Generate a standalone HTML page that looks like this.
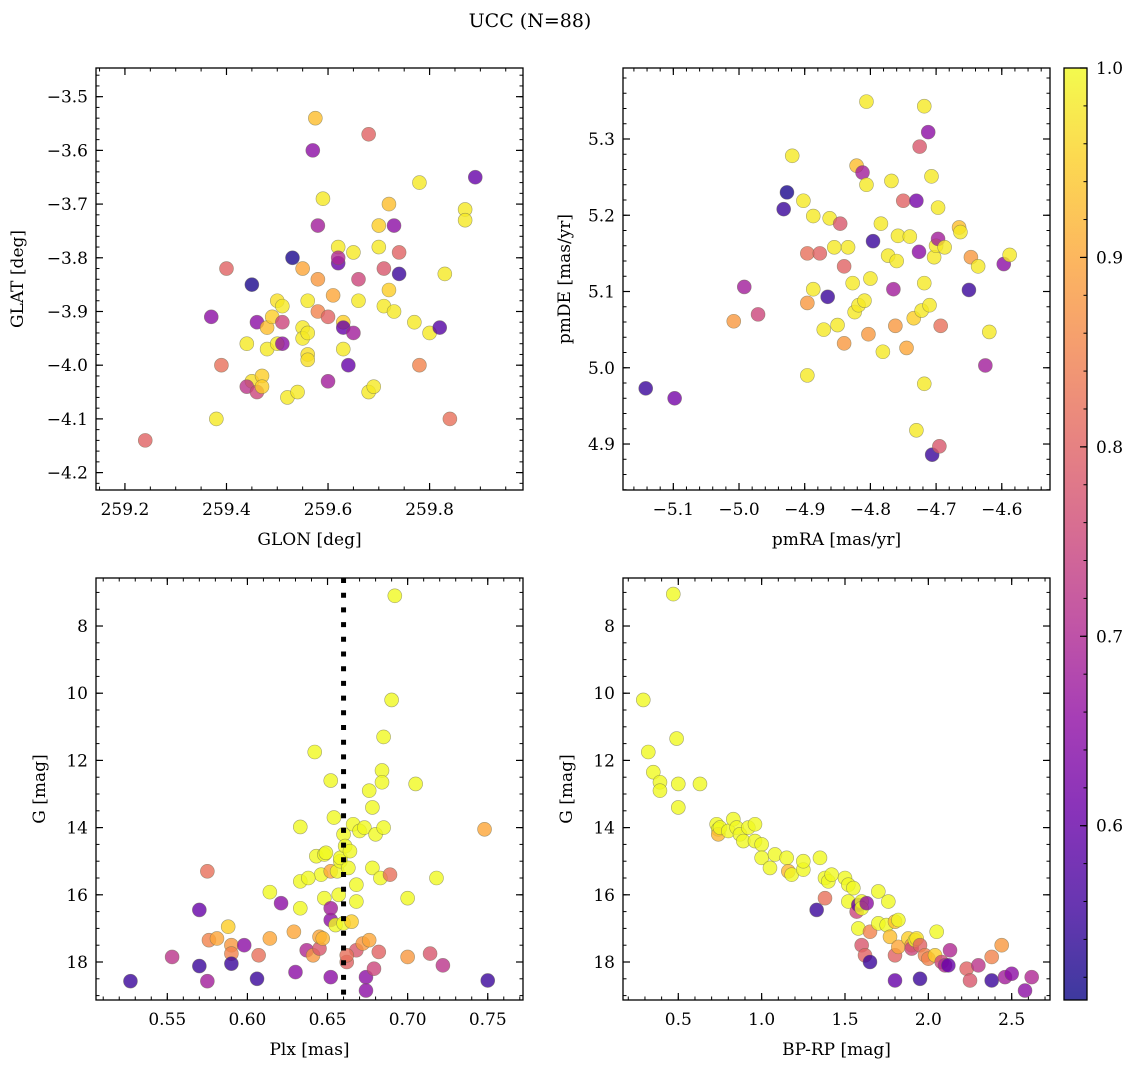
<!DOCTYPE html>
<html><head><meta charset="utf-8"><style>
body{margin:0;background:#fff}
svg{display:block}
text{font-family:"DejaVu Serif","Liberation Serif",serif;fill:#000}
</style></head><body>
<svg id="fig" width="1136" height="1067" viewBox="0 0 1136 1067" xmlns="http://www.w3.org/2000/svg">
<text x="530" y="27" font-size="19" text-anchor="middle">UCC (N=88)</text>
<defs><linearGradient id="cbg" x1="0" y1="1" x2="0" y2="0">
<stop offset="0" stop-color="#0d0887"/><stop offset="0.1" stop-color="#41049d"/><stop offset="0.2" stop-color="#6a00a8"/><stop offset="0.3" stop-color="#8f0da4"/><stop offset="0.4" stop-color="#b12a90"/><stop offset="0.5" stop-color="#cc4778"/><stop offset="0.6" stop-color="#e16462"/><stop offset="0.7" stop-color="#f2844b"/><stop offset="0.8" stop-color="#fca636"/><stop offset="0.9" stop-color="#fcce25"/><stop offset="1" stop-color="#f0f921"/>
</linearGradient></defs>
</svg>
<script>
// ---- data ----
const p1Lon=[259.24,259.37,259.38,259.39,259.40,259.44,259.45,259.45,259.44,259.46,259.46,259.47,259.47,259.48,259.48,259.49,259.50,259.50,259.51,259.51,259.51,259.52,259.53,259.54,259.55,259.55,259.55,259.56,259.56,259.56,259.56,259.57,259.575,259.58,259.58,259.58,259.59,259.60,259.60,259.61,259.62,259.62,259.62,259.63,259.63,259.63,259.64,259.65,259.65,259.66,259.66,259.68,259.68,259.69,259.70,259.70,259.71,259.71,259.72,259.72,259.73,259.73,259.74,259.74,259.77,259.78,259.78,259.80,259.82,259.83,259.84,259.87,259.87,259.89];
const p1Lat=[-4.14,-3.91,-4.10,-4.00,-3.82,-3.96,-3.85,-4.03,-4.04,-3.92,-4.05,-4.02,-4.04,-3.97,-3.93,-3.91,-3.88,-3.96,-3.89,-3.92,-3.96,-4.06,-3.80,-4.05,-3.93,-3.95,-3.82,-3.98,-3.99,-3.94,-3.88,-3.60,-3.54,-3.90,-3.84,-3.74,-3.69,-3.91,-4.03,-3.87,-3.78,-3.81,-3.80,-3.92,-3.93,-3.97,-4.00,-3.94,-3.79,-3.84,-3.88,-3.57,-4.05,-4.04,-3.78,-3.74,-3.82,-3.89,-3.70,-3.86,-3.90,-3.74,-3.79,-3.83,-3.92,-3.66,-4.00,-3.94,-3.93,-3.83,-4.10,-3.71,-3.73,-3.65];
const p1C=[0.8,0.65,0.98,0.82,0.8,0.98,0.52,0.97,0.72,0.65,0.75,0.95,0.95,0.98,0.93,0.95,0.97,0.98,0.98,0.75,0.65,0.98,0.52,0.98,0.98,0.98,0.9,0.97,0.97,0.98,0.98,0.65,0.93,0.85,0.88,0.68,0.98,0.8,0.68,0.9,0.98,0.6,0.7,0.95,0.6,0.98,0.6,0.68,0.98,0.75,0.98,0.8,0.98,0.98,0.98,0.95,0.78,0.98,0.93,0.95,0.98,0.65,0.8,0.55,0.98,0.98,0.85,0.98,0.58,0.98,0.82,0.98,0.98,0.6];

const p2RA=[-5.142,-5.098,-5.008,-4.992,-4.971,-4.927,-4.932,-4.919,-4.902,-4.896,-4.896,-4.896,-4.887,-4.887,-4.877,-4.871,-4.862,-4.865,-4.855,-4.850,-4.846,-4.840,-4.840,-4.834,-4.827,-4.824,-4.821,-4.818,-4.812,-4.809,-4.806,-4.803,-4.800,-4.806,-4.796,-4.784,-4.781,-4.773,-4.768,-4.765,-4.762,-4.758,-4.750,-4.740,-4.734,-4.730,-4.730,-4.726,-4.725,-4.722,-4.718,-4.718,-4.718,-4.712,-4.710,-4.707,-4.706,-4.703,-4.700,-4.697,-4.697,-4.693,-4.695,-4.687,-4.665,-4.663,-4.647,-4.650,-4.636,-4.625,-4.619,-4.597,-4.588,-4.760,-4.745];
const p2DE=[4.973,4.960,5.061,5.106,5.070,5.230,5.208,5.278,5.219,5.150,5.085,4.990,5.199,5.103,5.150,5.050,5.196,5.093,5.158,5.056,5.189,5.032,5.133,5.158,5.111,5.073,5.265,5.082,5.256,5.088,5.240,5.044,5.117,5.349,5.166,5.189,5.021,5.147,5.245,5.103,5.055,5.173,5.219,5.172,5.065,4.918,5.219,5.152,5.290,5.075,5.343,5.111,4.979,5.309,5.082,5.251,4.886,5.145,5.160,5.210,5.169,5.055,4.897,5.158,5.184,5.178,5.145,5.102,5.133,5.003,5.047,5.136,5.148,5.140,5.026];
const p2C=[0.55,0.62,0.88,0.68,0.75,0.52,0.55,0.98,0.98,0.82,0.88,0.98,0.98,0.98,0.8,0.98,0.98,0.55,0.98,0.98,0.78,0.88,0.8,0.98,0.98,0.98,0.93,0.98,0.68,0.98,0.98,0.88,0.98,0.98,0.55,0.98,0.98,0.98,0.98,0.68,0.88,0.98,0.8,0.98,0.95,0.98,0.62,0.65,0.78,0.98,0.98,0.98,0.98,0.65,0.98,0.98,0.55,0.98,0.98,0.98,0.68,0.82,0.78,0.98,0.93,0.98,0.88,0.55,0.98,0.68,0.98,0.65,0.98,0.98,0.9];

const p3Plx=[0.527,0.553,0.570,0.570,0.575,0.575,0.576,0.581,0.588,0.590,0.590,0.590,0.598,0.606,0.607,0.614,0.614,0.621,0.629,0.630,0.633,0.633,0.633,0.637,0.642,0.641,0.643,0.645,0.645,0.646,0.648,0.648,0.649,0.652,0.652,0.652,0.652,0.652,0.654,0.655,0.656,0.657,0.658,0.658,0.660,0.660,0.661,0.662,0.663,0.664,0.665,0.666,0.668,0.668,0.670,0.672,0.673,0.674,0.674,0.676,0.676,0.678,0.678,0.679,0.680,0.682,0.683,0.684,0.684,0.685,0.685,0.689,0.690,0.692,0.700,0.700,0.705,0.714,0.718,0.722,0.748,0.750,0.647,0.662,0.668,0.638];
const p3G=[18.57,17.85,18.12,16.45,18.57,15.3,17.35,17.3,16.95,17.5,17.75,18.05,17.5,18.5,17.8,17.3,15.92,16.25,17.1,18.3,15.6,16.4,13.98,17.65,11.75,17.8,14.85,17.6,17.25,15.4,14.8,16.1,14.75,16.75,18.45,15.3,16.4,12.6,13.7,16.9,15.3,16.0,15.0,14.9,16.85,14.2,14.55,18.0,15.2,14.7,16.8,13.9,15.7,17.65,14.1,17.45,14.0,18.45,18.85,12.9,17.35,13.4,15.2,18.2,14.2,17.7,15.5,12.3,12.65,11.3,14.0,15.4,10.2,7.1,17.85,16.1,12.7,17.75,15.5,18.1,14.05,18.55,17.3,17.8,16.2,15.5];
const p3C=[0.55,0.72,0.55,0.6,0.68,0.82,0.85,0.9,0.95,0.88,0.85,0.55,0.65,0.55,0.82,0.9,1,0.65,0.9,0.65,1,1,1,0.7,1,0.88,1,0.78,0.9,1,1,1,1,0.65,0.65,0.9,0.68,1,1,1,1,1,1,1,1,1,1,0.8,1,1,0.95,1,1,0.78,1,0.88,1,0.65,0.65,1,0.9,1,1,0.75,1,0.8,1,1,1,1,1,0.82,1,1,0.88,1,1,0.78,1,0.72,0.9,0.55,0.92,0.82,1,1];

const p4BR=[0.29,0.32,0.35,0.39,0.39,0.49,0.5,0.5,0.63,0.47,0.73,0.74,0.74,0.75,0.8,0.83,0.85,0.87,0.89,0.92,0.96,0.96,1.0,1.0,1.05,1.08,1.15,1.16,1.18,1.25,1.25,1.35,1.33,1.38,1.38,1.4,1.42,1.5,1.52,1.55,1.52,1.57,1.58,1.58,1.6,1.6,1.6,1.62,1.63,1.65,1.65,1.7,1.7,1.75,1.76,1.77,1.8,1.82,1.8,1.82,1.8,1.88,1.9,1.9,1.92,1.93,1.95,1.95,1.98,2.0,2.04,2.05,2.08,2.1,2.13,2.12,2.23,2.25,2.3,2.38,2.38,2.44,2.46,2.5,2.58,2.62];
const p4G=[10.2,11.75,12.35,12.65,12.9,11.35,12.7,13.4,12.7,7.05,13.9,14.05,14.2,14.0,14.1,13.75,14.0,14.2,14.4,14.0,13.9,14.4,14.5,14.9,15.2,14.8,14.9,15.3,15.4,15.25,15.0,14.9,16.45,16.1,15.5,15.6,15.4,15.5,15.7,15.8,16.2,16.5,16.3,17.0,16.2,17.5,16.4,17.8,16.25,17.1,18.0,15.9,16.85,16.9,16.2,17.25,16.8,16.75,17.8,17.55,18.55,17.3,17.5,17.6,17.35,17.3,17.5,18.5,17.8,17.9,17.8,17.1,18.0,18.1,17.65,18.1,18.2,18.55,18.1,17.85,18.55,17.5,18.45,18.35,18.85,18.45];
const p4C=[1,1,1,1,1,1,1,1,1,1,1,1,0.92,1,1,1,1,1,1,1,1,1,1,1,1,1,1,0.92,1,1,1,1,0.55,0.82,1,1,1,1,1,1,1,0.75,0.6,1,1,0.78,1,0.8,0.65,0.85,0.55,1,1,1,1,0.93,0.93,1,0.8,0.9,0.6,0.95,0.88,0.75,1,0.97,0.8,0.55,0.85,0.85,0.95,1,0.75,0.7,0.7,0.6,0.8,0.78,0.72,0.85,0.55,0.88,0.68,0.65,0.65,0.7];

const cTicks=[0.6,0.7,0.8,0.9,1.0];
const VMIN=0.508, VMAX=1.0;

const NS="http://www.w3.org/2000/svg";
const svg=document.getElementById('fig');
const FS=17;
function mk(tag,attrs,parent){const e=document.createElementNS(NS,tag);for(const k in attrs)e.setAttribute(k,attrs[k]);(parent||svg).appendChild(e);return e;}
const stops=[[13,8,135],[65,4,157],[106,0,168],[143,13,164],[177,42,144],[204,71,120],[225,100,98],[242,132,75],[252,166,54],[252,206,37],[240,249,33]];
function plasma(v){let t=(v-VMIN)/(VMAX-VMIN);t=Math.max(0,Math.min(1,t))*10;const i=Math.min(9,Math.floor(t)),f=t-i;const a=stops[i],b=stops[i+1];return 'rgb('+a.map((x,k)=>Math.round(x+(b[k]-x)*f)).join(',')+')';}

function panel(name,box,xr,yr,xMaj,xMin,yMaj,yMin,xdec,ydec,xlab,ylab,ylx,xs,ys,cs,negY){
  const [x0,y0,x1,y1]=box;
  const sx=v=>x0+(v-xr[0])/(xr[1]-xr[0])*(x1-x0);
  const sy=v=>y1-(v-yr[0])/(yr[1]-yr[0])*(y1-y0);
  const g=mk('g',{});
  
  
  const eps=1e-9;
  const ticks=(step,lo,hi)=>{const r=[];for(let v=Math.ceil(lo/step-eps)*step;v<=hi+eps;v+=step)r.push(+v.toFixed(6));return r;};
  ticks(xMin,xr[0],xr[1]).forEach(v=>{const X=sx(v);mk('line',{x1:X,x2:X,y1:y1,y2:y1-3.5,stroke:'#000','stroke-width':1},g);mk('line',{x1:X,x2:X,y1:y0,y2:y0+3.5,stroke:'#000','stroke-width':1},g);});
  ticks(yMin,yr[0],yr[1]).forEach(v=>{const Y=sy(v);mk('line',{x1:x0,x2:x0+3.5,y1:Y,y2:Y,stroke:'#000','stroke-width':1},g);mk('line',{x1:x1,x2:x1-3.5,y1:Y,y2:Y,stroke:'#000','stroke-width':1},g);});
  ticks(xMaj,xr[0],xr[1]).forEach(v=>{const X=sx(v);mk('line',{x1:X,x2:X,y1:y1,y2:y1-7,stroke:'#000','stroke-width':1.2},g);mk('line',{x1:X,x2:X,y1:y0,y2:y0+7,stroke:'#000','stroke-width':1.2},g);
    const t=mk('text',{x:X,y:y1+25,'font-size':FS,'text-anchor':'middle'},g);t.textContent=v.toFixed(xdec).replace('-','\u2212');
    
    });
  ticks(yMaj,yr[0],yr[1]).forEach(v=>{const Y=sy(v);mk('line',{x1:x0,x2:x0+7,y1:Y,y2:Y,stroke:'#000','stroke-width':1.2},g);mk('line',{x1:x1,x2:x1-7,y1:Y,y2:Y,stroke:'#000','stroke-width':1.2},g);
    const lab=negY?(-v).toFixed(ydec):v.toFixed(ydec).replace('-','\u2212');
    const t=mk('text',{x:x0-8,y:Y+6,'font-size':FS,'text-anchor':'end'},g);t.textContent=lab;
    
    });
  const xl=mk('text',{x:(x0+x1)/2,y:y1+55,'font-size':FS,'text-anchor':'middle'},g);xl.textContent=xlab;
  
  
  const yl=mk('text',{x:0,y:0,'font-size':FS,'text-anchor':'middle',transform:'translate('+ylx+','+((y0+y1)/2)+') rotate(-90)'},g);yl.textContent=ylab;
  
  
  const clip=mk('clipPath',{id:'clip'+name},g);mk('rect',{x:x0,y:y0,width:x1-x0,height:y1-y0},clip);
  const pts=mk('g',{'clip-path':'url(#clip'+name+')'},g);
  xs.forEach((v,i)=>{const c=mk('circle',{cx:sx(v),cy:sy(ys[i]),r:7,fill:plasma(cs[i]),'fill-opacity':0.8,stroke:'#6b6b50','stroke-opacity':0.6,'stroke-width':0.6},pts);
    
    });
  mk('rect',{x:x0,y:y0,width:x1-x0,height:y1-y0,fill:'none',stroke:'#000','stroke-width':1.3},g);
  return {sx,sy,g};
}
panel('p1',[96,68,523,490],[259.143,259.984],[-4.2324,-3.4466],0.2,0.05,0.1,0.02,1,1,'GLON [deg]','GLAT [deg]',23,p1Lon,p1Lat,p1C,false);
panel('p2',[623,68,1050,490],[-5.1766,-4.5266],[4.8397,5.3931],0.1,0.02,0.1,0.02,1,1,'pmRA [mas/yr]','pmDE [mas/yr]',570,p2RA,p2DE,p2C,false);
const P3=panel('p3',[96,578,523,1000],[0.5055,0.772],[-19.131,-6.571],0.05,0.01,2,0.5,2,0,'Plx [mas]','G [mag]',45,p3Plx,p3G.map(v=>-v),p3C,true);
panel('p4',[623,578,1050,1000],[0.1683,2.7298],[-19.131,-6.571],0.5,0.1,2,0.5,1,0,'BP-RP [mag]','G [mag]',572,p4BR,p4G.map(v=>-v),p4C,true);
// dotted median plx line
const plxMedian=0.66;
const dl=mk('line',{x1:P3.sx(plxMedian),x2:P3.sx(plxMedian),y1:578,y2:1000,stroke:'#000','stroke-width':5,'stroke-dasharray':'5 9.7'});


// colorbar
const cb=mk('g',{});


const cy=v=>1000-(v-VMIN)/(VMAX-VMIN)*932;
mk('rect',{x:1064,y:68,width:23,height:932,fill:'url(#cbg)','fill-opacity':0.8},cb);
for(let v=0.52;v<=1.0001;v+=0.02){const Y=cy(v);mk('line',{x1:1087,x2:1083.5,y1:Y,y2:Y,stroke:'#000','stroke-width':1},cb);}
cTicks.forEach(v=>{const Y=cy(v);mk('line',{x1:1087,x2:1080,y1:Y,y2:Y,stroke:'#000','stroke-width':1.2},cb);const t=mk('text',{x:1096,y:Y+6,'font-size':FS},cb);t.textContent=v.toFixed(1);
  
  });
mk('rect',{x:1064,y:68,width:23,height:932,fill:'none',stroke:'#000','stroke-width':1.3},cb);
</script>
</body></html>
